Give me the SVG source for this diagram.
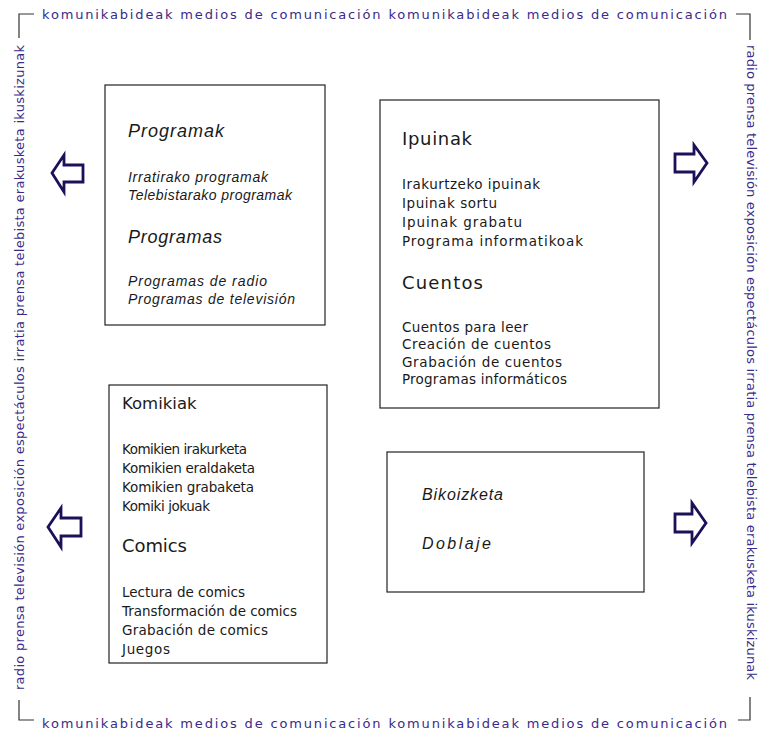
<svg xmlns="http://www.w3.org/2000/svg" width="761" height="734" viewBox="0 0 761 734">
<style>
.frame{fill:none;stroke:#222;stroke-width:1.2}
.corner{fill:none;stroke:#333;stroke-width:1.2}
.band{font-family:"DejaVu Sans",sans-serif;font-size:13px;fill:#3a2a8a}
.h{font-family:"DejaVu Sans",sans-serif;font-size:18px;fill:#1a1a1a}
.t{font-family:"DejaVu Sans",sans-serif;font-size:13.5px;fill:#1a1a1a}
.hi{font-family:"Liberation Sans",sans-serif;font-style:italic;font-size:18px;fill:#1a1a1a}
.ti{font-family:"Liberation Sans",sans-serif;font-style:italic;font-size:14px;fill:#1a1a1a}
.arrow{fill:#fff;stroke:#1c1058;stroke-width:2.8;stroke-linejoin:miter}
</style>
<rect width="761" height="734" fill="#fff"/>
<g id="border">
<path class="corner" d="M34 14H19V38"/>
<path class="corner" d="M736 14H750V40"/>
<path class="corner" d="M19 700V720H34"/>
<path class="corner" d="M738 720H750V697"/>
<text class="band" x="42" y="19" textLength="685" lengthAdjust="spacing">komunikabideak medios de comunicación komunikabideak  medios de comunicación</text>
<text class="band" x="42" y="728" textLength="685" lengthAdjust="spacing">komunikabideak medios de comunicación komunikabideak  medios de comunicación</text>
<text class="band" transform="translate(24 690) rotate(-90)" x="0" y="0" textLength="645" lengthAdjust="spacing">radio prensa televisión exposición espectáculos  irratia prensa telebista erakusketa ikuskizunak</text>
<text class="band" transform="translate(747 45) rotate(90)" x="0" y="0" textLength="635" lengthAdjust="spacing">radio prensa televisión exposición espectáculos  irratia prensa telebista erakusketa ikuskizunak</text>
</g>
<g id="connectors">
<path class="arrow" d="M52 173L64 155V165H83V182H64V192Z"/>
<path class="arrow" d="M48 527L61 508V518H81V536H61V547Z"/>
<path class="arrow" d="M707 163L694 145V154H675V172H694V182Z"/>
<path class="arrow" d="M706 523L692 503V514H675V532H692V543Z"/>
</g>
<g id="programak">
<rect class="frame" x="105" y="85" width="220" height="240"/>
<text class="hi" x="128" y="137" textLength="96" lengthAdjust="spacing">Programak</text>
<text class="ti" x="128" y="182" textLength="140" lengthAdjust="spacing">Irratirako programak</text>
<text class="ti" x="128" y="200" textLength="164" lengthAdjust="spacing">Telebistarako programak</text>
<text class="hi" x="128" y="243" textLength="94" lengthAdjust="spacing">Programas</text>
<text class="ti" x="128" y="286" textLength="139" lengthAdjust="spacing">Programas de radio</text>
<text class="ti" x="128" y="304" textLength="167" lengthAdjust="spacing">Programas de televisión</text>
</g>
<g id="ipuinak">
<rect class="frame" x="380" y="100" width="279" height="308"/>
<text class="h" x="402" y="145" textLength="70" lengthAdjust="spacing">Ipuinak</text>
<text class="t" x="402" y="189" textLength="138" lengthAdjust="spacing">Irakurtzeko ipuinak</text>
<text class="t" x="402" y="208" textLength="95" lengthAdjust="spacing">Ipuinak sortu</text>
<text class="t" x="402" y="227" textLength="120" lengthAdjust="spacing">Ipuinak grabatu</text>
<text class="t" x="402" y="246" textLength="181" lengthAdjust="spacing">Programa informatikoak</text>
<text class="h" x="402" y="289" textLength="81" lengthAdjust="spacing">Cuentos</text>
<text class="t" x="402" y="332" textLength="126" lengthAdjust="spacing">Cuentos para leer</text>
<text class="t" x="402" y="349" textLength="149" lengthAdjust="spacing">Creación de cuentos</text>
<text class="t" x="402" y="367" textLength="160" lengthAdjust="spacing">Grabación de cuentos</text>
<text class="t" x="402" y="384" textLength="165" lengthAdjust="spacing">Programas informáticos</text>
</g>
<g id="komikiak">
<rect class="frame" x="109" y="385" width="218" height="278"/>
<text class="h" style="font-size:16.5px" x="122" y="409">Komikiak</text>
<text class="t" x="122" y="454" textLength="125" lengthAdjust="spacing">Komikien irakurketa</text>
<text class="t" x="122" y="473" textLength="133" lengthAdjust="spacing">Komikien eraldaketa</text>
<text class="t" x="122" y="492" textLength="132" lengthAdjust="spacing">Komikien grabaketa</text>
<text class="t" x="122" y="511" textLength="88" lengthAdjust="spacing">Komiki jokuak</text>
<text class="h" x="122" y="552" textLength="65" lengthAdjust="spacing">Comics</text>
<text class="t" x="122" y="597" textLength="123" lengthAdjust="spacing">Lectura de comics</text>
<text class="t" x="122" y="616" textLength="175" lengthAdjust="spacing">Transformación de comics</text>
<text class="t" x="122" y="635" textLength="146" lengthAdjust="spacing">Grabación de comics</text>
<text class="t" x="122" y="654" textLength="48" lengthAdjust="spacing">Juegos</text>
</g>
<g id="bikoizketa">
<rect class="frame" x="387" y="452" width="257" height="140"/>
<text class="hi" style="font-size:16px" x="422" y="500" textLength="81" lengthAdjust="spacing">Bikoizketa</text>
<text class="hi" style="font-size:16px" x="422" y="549" textLength="69" lengthAdjust="spacing">Doblaje</text>
</g>
</svg>
